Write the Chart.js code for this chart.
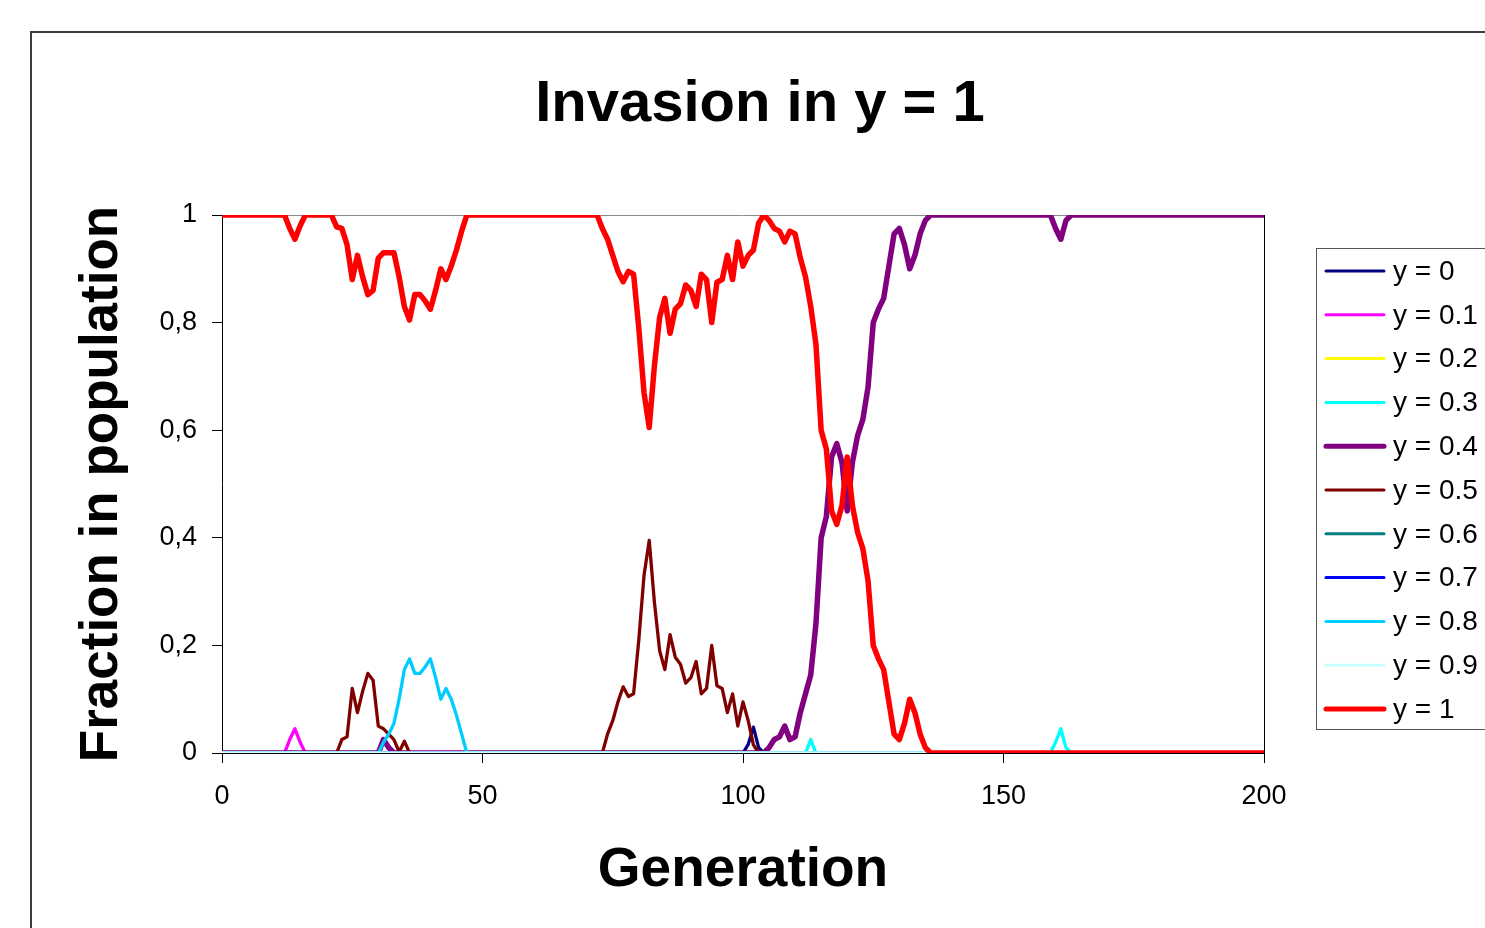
<!DOCTYPE html>
<html lang="en">
  <head>
    <meta charset="UTF-8" />
    <title>Invasion in y = 1</title>
    <script src="https://cdn.jsdelivr.net/npm/chart.js@4.4.1/dist/chart.umd.min.js"></script>
    <style>
      html,
      body {
        margin: 0;
        padding: 0;
        background: #fff;
        overflow: hidden;
      }
      #chart {
        display: block;
      }
    </style>
  </head>
  <body>
    <canvas id="chart" width="1485" height="928"></canvas>

    <script>
      // series names + excel palette colours
      const seriesLabels = ['y = 0', 'y = 0.1', 'y = 0.2', 'y = 0.3', 'y = 0.4', 'y = 0.5', 'y = 0.6', 'y = 0.7', 'y = 0.8', 'y = 0.9', 'y = 1'];
      const seriesColors = ['#000080', '#ff00ff', '#ffff00', '#00ffff', '#800080', '#800000', '#008080', '#0000ff', '#00ccff', '#ccffff', '#ff0000'];
      const thickSeries = ['y = 0.4', 'y = 1'];

      const xTicks = [0, 50, 100, 150, 200];
      const yTicks = [0, 0.2, 0.4, 0.6, 0.8, 1];

      // generation / fraction pairs
      const flatGen = [0, 200];
      const flatVal = [0, 0];

      const y0Gen = [0, 100, 101, 102, 103, 104, 200];
      const y0Val = [0, 0, 0.016, 0.048, 0.01, 0, 0];

      const y01Gen = [0, 12, 13, 14, 15, 16, 200];
      const y01Val = [0, 0, 0.025, 0.045, 0.02, 0, 0];

      const y03Gen = [0, 112, 113, 114, 159, 160, 161, 162, 163, 200];
      const y03Val = [0, 0, 0.025, 0, 0, 0.02, 0.045, 0.01, 0, 0];

      const y04Gen = [0, 30, 31, 32, 33,
        104, 105, 106, 107, 108, 109, 110, 111, 112, 113, 114, 115, 116, 117, 118, 119, 120,
        121, 122, 123, 124, 125, 126, 127, 128, 129, 130, 131, 132, 133, 134, 135, 136,
        159, 160, 161, 162, 163, 200];
      const y04Val = [0, 0, 0.025, 0.01, 0,
        0, 0.01, 0.025, 0.03, 0.05, 0.025, 0.03, 0.075, 0.11, 0.145, 0.24, 0.4, 0.44, 0.55, 0.575, 0.54, 0.45,
        0.54, 0.59, 0.62, 0.68, 0.8, 0.825, 0.845, 0.905, 0.965, 0.975, 0.945, 0.9, 0.925, 0.965, 0.99, 1,
        1, 0.975, 0.955, 0.99, 1, 1];

      const y05Gen = [0, 22, 23, 24, 25, 26, 27, 28, 29, 30, 31, 32, 33, 34, 35, 36,
        73, 74, 75, 76, 77, 78, 79, 80, 81, 82, 83, 84, 85, 86, 87, 88, 89, 90,
        91, 92, 93, 94, 95, 96, 97, 98, 99, 100, 101, 102, 103, 200];
      const y05Val = [0, 0, 0.025, 0.03, 0.12, 0.075, 0.115, 0.148, 0.135, 0.05, 0.045, 0.035, 0.025, 0.002, 0.022, 0,
        0, 0.035, 0.06, 0.095, 0.123, 0.105, 0.11, 0.21, 0.33, 0.395, 0.28, 0.19, 0.155, 0.22, 0.178, 0.165, 0.13, 0.14,
        0.17, 0.11, 0.12, 0.2, 0.125, 0.12, 0.075, 0.11, 0.05, 0.095, 0.06, 0.015, 0, 0];

      const y08Gen = [0, 30, 31, 32, 33, 34, 35, 36, 37, 38, 39, 40, 41, 42, 43, 44, 45, 46, 47, 200];
      const y08Val = [0, 0, 0.02, 0.035, 0.055, 0.1, 0.155, 0.175, 0.148, 0.148, 0.16, 0.175, 0.14, 0.1, 0.12, 0.1, 0.07, 0.035, 0, 0];

      const y1Gen = [0, 12, 13, 14, 15, 16, 21,
        22, 23, 24, 25, 26, 27, 28, 29, 30, 31, 32, 33, 34, 35, 36, 37, 38, 39, 40, 41, 42, 43, 44, 45, 46, 47,
        72, 73, 74, 75, 76, 77, 78, 79, 80, 81, 82, 83, 84, 85, 86, 87, 88, 89, 90,
        91, 92, 93, 94, 95, 96, 97, 98, 99, 100, 101, 102, 103, 104, 105, 106, 107, 108, 109, 110,
        111, 112, 113, 114, 115, 116, 117, 118, 119, 120, 121, 122, 123, 124, 125, 126, 127, 128, 129, 130,
        131, 132, 133, 134, 135, 136, 200];
      const y1Val = [1, 1, 0.975, 0.955, 0.98, 1, 1,
        0.978, 0.975, 0.945, 0.88, 0.925, 0.885, 0.852, 0.86, 0.92, 0.93, 0.93, 0.93, 0.885, 0.83, 0.805, 0.852, 0.852, 0.84, 0.825, 0.86, 0.9, 0.88, 0.905, 0.935, 0.97, 1,
        1, 0.975, 0.955, 0.925, 0.895, 0.876, 0.895, 0.89, 0.79, 0.67, 0.605, 0.72, 0.81, 0.845, 0.78, 0.825, 0.835, 0.87, 0.86,
        0.83, 0.89, 0.88, 0.8, 0.875, 0.88, 0.925, 0.88, 0.95, 0.905, 0.925, 0.935, 0.985, 1, 0.99, 0.975, 0.97, 0.95, 0.97, 0.965,
        0.92, 0.885, 0.83, 0.76, 0.6, 0.565, 0.45, 0.425, 0.46, 0.55, 0.46, 0.41, 0.38, 0.32, 0.2, 0.175, 0.155, 0.095, 0.035, 0.025,
        0.055, 0.1, 0.075, 0.035, 0.01, 0, 0];

      const seriesGens = [y0Gen, y01Gen, flatGen, y03Gen, y04Gen, y05Gen, flatGen, flatGen, y08Gen, flatGen, y1Gen];
      const seriesVals = [y0Val, y01Val, flatVal, y03Val, y04Val, y05Val, flatVal, flatVal, y08Val, flatVal, y1Val];

      const titleText = 'Invasion in y = 1';
      const FONT = "'Liberation Sans', Arial, Helvetica, sans-serif";

      Chart.defaults.font.family = FONT;
      Chart.defaults.color = '#000';

      const datasets = seriesLabels.map((label, i) => ({
        label: label,
        data: seriesGens[i].map((g, j) => ({ x: g, y: seriesVals[i][j] })),
        borderColor: seriesColors[i],
        backgroundColor: seriesColors[i],
        borderWidth: thickSeries.includes(label) ? 5.5 : 3.3,
        borderJoinStyle: 'round',
        borderCapStyle: 'round',
        pointRadius: 0,
        tension: 0,
        fill: false,
        order: seriesLabels.length - i, // last series on top, like excel
      }));

      // outer frame, title and the boxed legend
      const extras = {
        id: 'extras',
        beforeDraw(chart) {
          const ctx = chart.ctx;
          ctx.save();
          ctx.fillStyle = '#fff';
          ctx.fillRect(0, 0, chart.width, chart.height);
          ctx.strokeStyle = '#3c3c3c';
          ctx.lineWidth = 2;
          ctx.beginPath();
          ctx.moveTo(31, chart.height + 5);
          ctx.lineTo(31, 32);
          ctx.lineTo(chart.width + 5, 32);
          ctx.stroke();
          ctx.restore();
        },
        afterDraw(chart) {
          const ctx = chart.ctx;
          ctx.save();
          ctx.fillStyle = '#000';
          ctx.font = 'bold 58px ' + FONT;
          ctx.textAlign = 'center';
          ctx.textBaseline = 'alphabetic';
          ctx.fillText(titleText, 760, 121);

          // legend
          ctx.fillStyle = '#fff';
          ctx.fillRect(1316, 248, 200, 481);
          ctx.strokeStyle = '#555';
          ctx.lineWidth = 1;
          ctx.strokeRect(1316.5, 248.5, 200, 481);
          ctx.font = '28px ' + FONT;
          ctx.textAlign = 'left';
          ctx.textBaseline = 'middle';
          chart.data.datasets.forEach((ds, i) => {
            const y = 271 + i * 43.8;
            ctx.strokeStyle = ds.borderColor;
            ctx.lineWidth = ds.borderWidth > 4 ? 5 : 3;
            ctx.lineCap = 'round';
            ctx.beginPath();
            ctx.moveTo(1326, y);
            ctx.lineTo(1384, y);
            ctx.stroke();
            ctx.fillStyle = '#000';
            ctx.fillText(ds.label, 1393, y + 1);
          });
          ctx.restore();
        },
      };

      new Chart(document.getElementById('chart'), {
        type: 'line',
        data: { datasets: datasets },
        plugins: [extras],
        options: {
          responsive: false,
          animation: false,
          devicePixelRatio: 1,
          layout: { padding: { left: 0, top: 215, right: 221, bottom: 0 } },
          plugins: {
            legend: { display: false },
            title: { display: false },
            tooltip: { enabled: false },
          },
          scales: {
            x: {
              type: 'linear',
              min: 0,
              max: 200,
              afterBuildTicks: (scale) => {
                scale.ticks = xTicks.map((v) => ({ value: v }));
              },
              afterFit: (scale) => {
                scale.height = 175;
              },
              ticks: {
                font: { size: 27 },
                color: '#000',
                padding: 17,
                maxRotation: 0,
              },
              grid: {
                drawTicks: true,
                tickLength: 10,
                tickColor: '#000',
                color: (c) => (c.tick && c.tick.value === 200 ? '#000' : 'rgba(0,0,0,0)'),
              },
              border: { display: true, color: '#000', width: 1 },
              title: {
                display: true,
                text: 'Generation',
                font: { size: 55, weight: 'bold' },
                color: '#000',
                padding: { top: 0, bottom: 24 },
              },
            },
            y: {
              type: 'linear',
              min: 0,
              max: 1,
              afterBuildTicks: (scale) => {
                scale.ticks = yTicks.map((v) => ({ value: v }));
              },
              afterFit: (scale) => {
                scale.width = 222;
              },
              ticks: {
                font: { size: 27 },
                color: '#000',
                padding: 15,
                callback: (v) => String(Math.round(v * 10) / 10).replace('.', ','),
              },
              grid: {
                drawTicks: true,
                tickLength: 10,
                tickColor: '#000',
                color: (c) => (c.tick && c.tick.value === 1 ? '#8c8c8c' : 'rgba(0,0,0,0)'),
              },
              border: { display: true, color: '#000', width: 1 },
              title: {
                display: true,
                text: 'Fraction in population',
                font: { size: 53, weight: 'bold' },
                color: '#000',
                padding: { top: 71, bottom: 0 },
              },
            },
          },
        },
      });
    </script>
  </body>
</html>
